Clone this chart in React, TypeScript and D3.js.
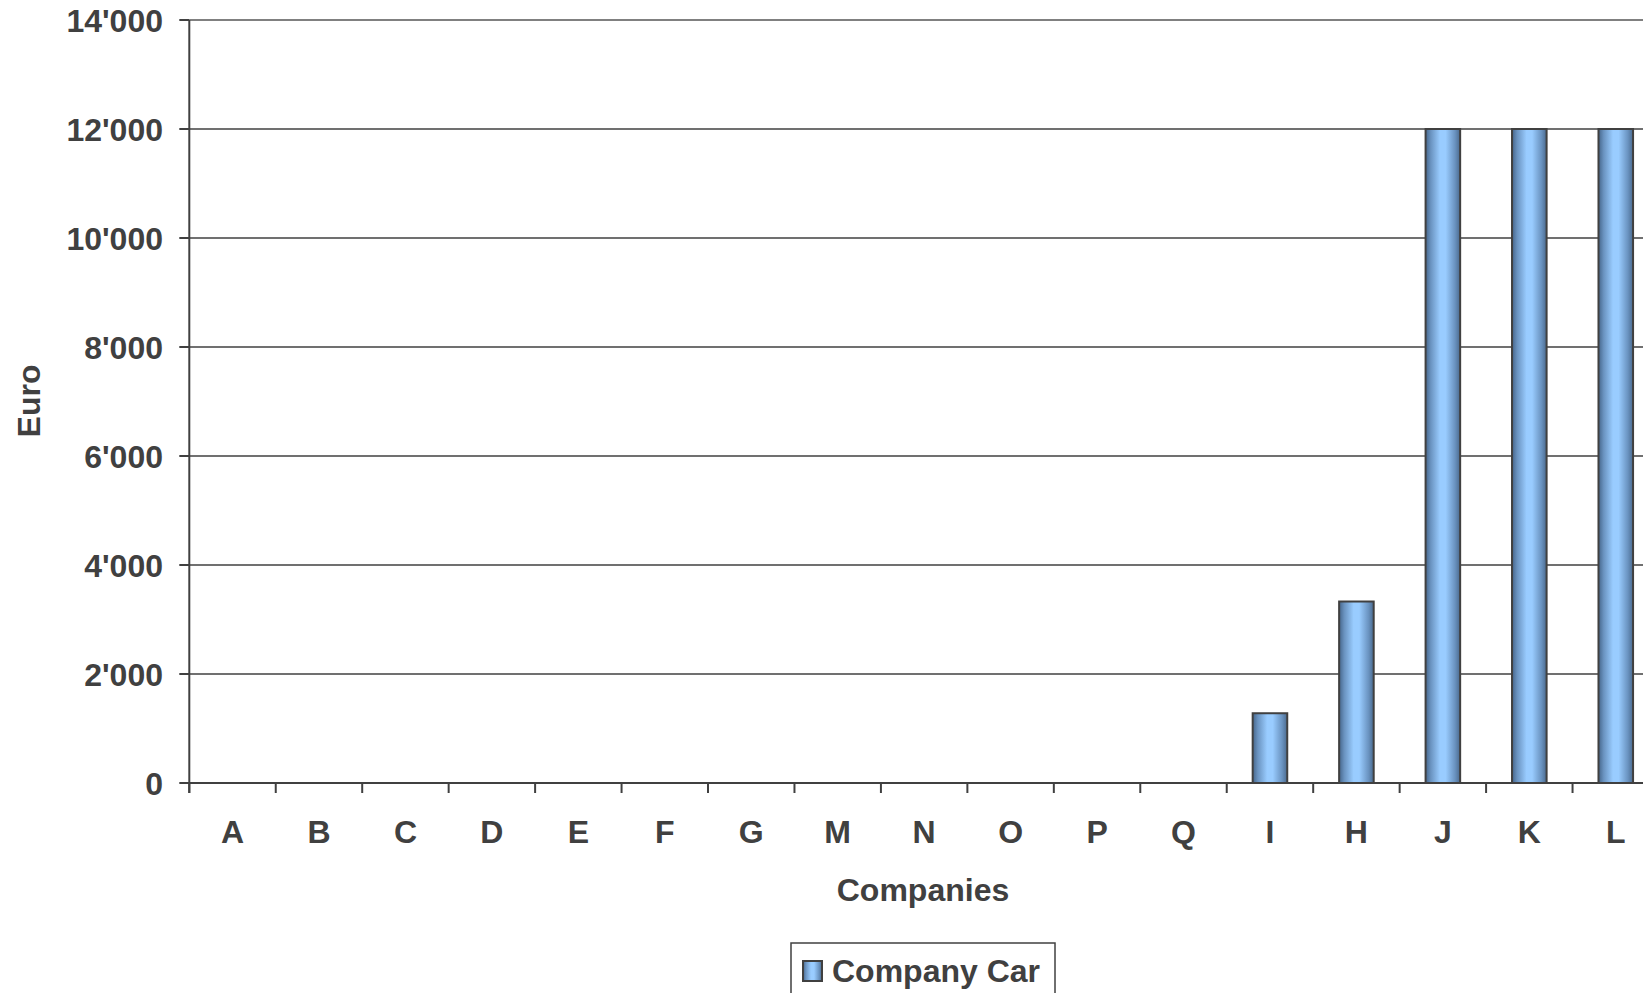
import React from "react";
import * as d3 from "d3";

const categories = ["A", "B", "C", "D", "E", "F", "G", "M", "N", "O", "P", "Q", "I", "H", "J", "K", "L"];
const companyCar = [0, 0, 0, 0, 0, 0, 0, 0, 0, 0, 0, 0, 1280, 3330, 12000, 12000, 12000];
const yTicks = [0, 2000, 4000, 6000, 8000, 10000, 12000, 14000];
const seriesName = "Company Car";
const xTitle = "Companies";
const yTitle = "Euro";

const W = 1643;
const H = 993;
const left = 189.3;
const right = 1659;
const top = 20;
const bottom = 783;
const font = "'Liberation Sans', Arial, Helvetica, sans-serif";
const textColor = "#404040";
const fs = 32;

const fmt = (v: number) => {
  const s = String(v);
  return s.replace(/\B(?=(\d{3})+(?!\d))/g, "'");
};

export default function App() {
  const x = d3.scaleBand<string>().domain(categories).range([left, right]).paddingInner(0.6).paddingOuter(0.3);
  const y = d3.scaleLinear().domain([0, 14000]).range([bottom, top]);
  const step = x.step();
  const x0 = left;

  return (
    <svg width={W} height={H} style={{ position: "absolute", left: 0, top: 0, background: "#fff" }}>
      <defs>
        <linearGradient id="barGrad" x1="0" x2="1" y1="0" y2="0">
          <stop offset="0%" stopColor="#45658a" />
          <stop offset="15%" stopColor="#6a93c0" />
          <stop offset="42%" stopColor="#99ccff" />
          <stop offset="58%" stopColor="#99ccff" />
          <stop offset="85%" stopColor="#6a93c0" />
          <stop offset="100%" stopColor="#4a6a8e" />
        </linearGradient>
      </defs>
      {yTicks.filter((t) => t > 0).map((t) => (
        <line key={"g" + t} x1={left} x2={W + 20} y1={y(t)} y2={y(t)} stroke={t === 14000 ? "#808080" : "#404040"} strokeWidth={t === 14000 ? 2 : 1.5} />
      ))}
      {categories.map((c, i) =>
        companyCar[i] > 0 ? (
          <rect
            key={"b" + c}
            x={x(c)!}
            y={y(companyCar[i])}
            width={x.bandwidth()}
            height={y(0) - y(companyCar[i])}
            fill="url(#barGrad)"
            stroke="#404040"
            strokeWidth={2}
          />
        ) : null
      )}
      <line x1={left} x2={left} y1={top} y2={bottom + 10} stroke="#404040" strokeWidth={2} />
      <line x1={left} x2={W + 20} y1={bottom} y2={bottom} stroke="#404040" strokeWidth={2} />
      {yTicks.map((t) => (
        <line key={"yt" + t} x1={left - 10} x2={left} y1={y(t)} y2={y(t)} stroke="#404040" strokeWidth={2} />
      ))}
      {d3.range(categories.length + 1).map((i) => (
        <line key={"xt" + i} x1={x0 + i * step} x2={x0 + i * step} y1={bottom} y2={bottom + 10} stroke="#404040" strokeWidth={2} />
      ))}
      {yTicks.map((t) => (
        <text key={"yl" + t} x={163} y={y(t) + 11.5} textAnchor="end" fontFamily={font} fontWeight="bold" fontSize={fs} fill={textColor}>
          {fmt(t)}
        </text>
      ))}
      {categories.map((c) => (
        <text key={"xl" + c} x={x(c)! + x.bandwidth() / 2} y={bottom + 60} textAnchor="middle" fontFamily={font} fontWeight="bold" fontSize={fs} fill={textColor}>
          {c}
        </text>
      ))}
      <text x={923} y={901} textAnchor="middle" fontFamily={font} fontWeight="bold" fontSize={fs} fill={textColor}>
        {xTitle}
      </text>
      <text transform="translate(40,401) rotate(-90)" textAnchor="middle" fontFamily={font} fontWeight="bold" fontSize={fs} fill={textColor}>
        {yTitle}
      </text>
      <rect x={791} y={943} width={264} height={70} fill="#fff" stroke="#404040" strokeWidth={1.5} />
      <rect x={803} y={961} width={19} height={20} fill="url(#barGrad)" stroke="#404040" strokeWidth={2} />
      <text x={832} y={982} fontFamily={font} fontWeight="bold" fontSize={fs} fill={textColor}>
        {seriesName}
      </text>
    </svg>
  );
}
